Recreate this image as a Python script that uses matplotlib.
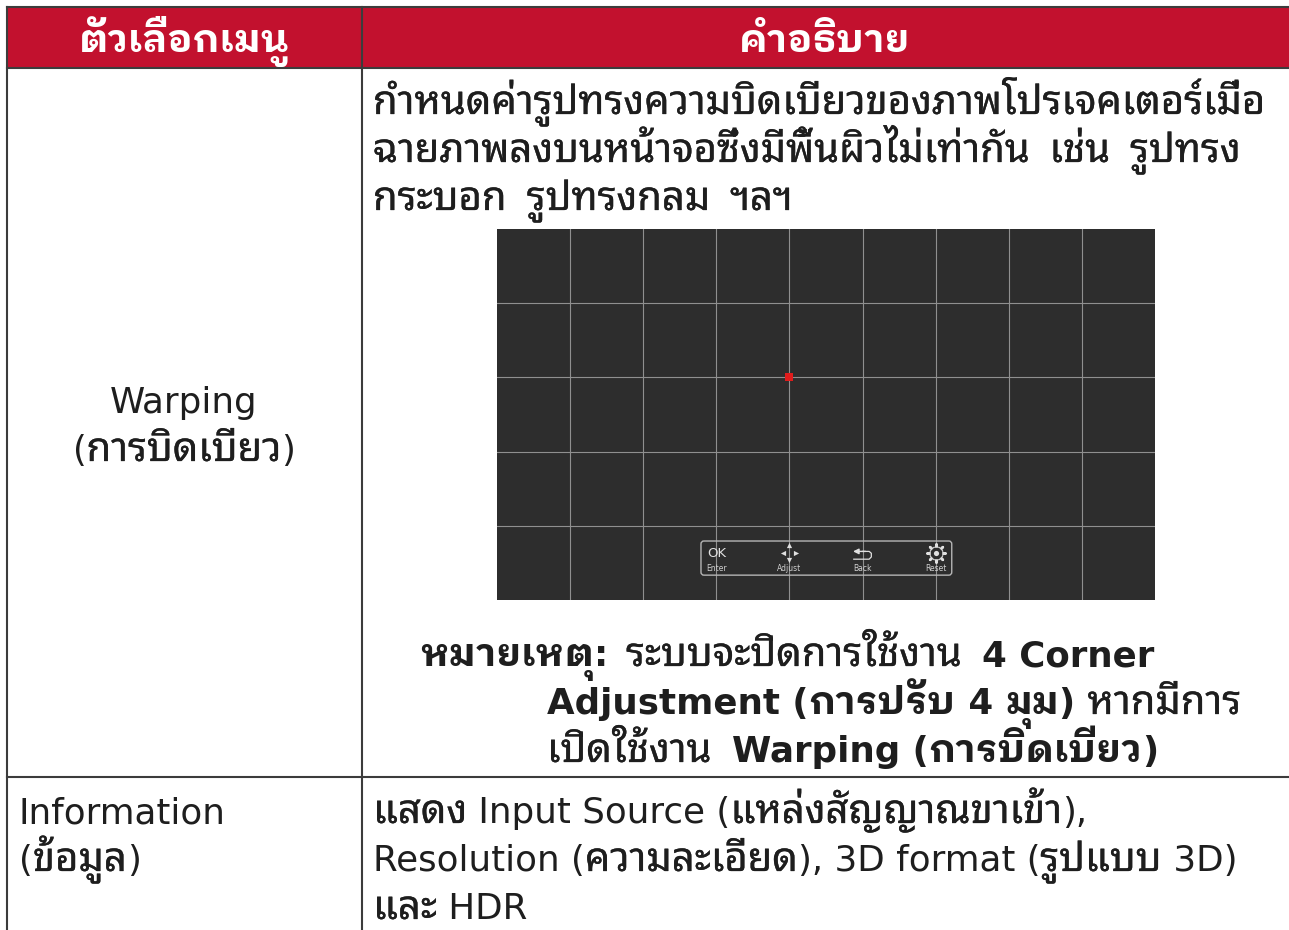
import re
import matplotlib
matplotlib.use('Agg')
import matplotlib.pyplot as plt
from matplotlib.patches import FancyBboxPatch
import matplotlib.patheffects as pe

header_labels = ['ตัวเลือกเมนู', 'คำอธิบาย']
warping_label = ['Warping', '(การบิดเบียว)']
warping_desc = ['กำหนดค่ารูปทรงความบิดเบียวของภาพโปรเจคเตอร์เมื่อ',
                'ฉายภาพลงบนหน้าจอซึ่งมีพื้นผิวไม่เท่ากัน เช่น รูปทรง',
                'กระบอก รูปทรงกลม ฯลฯ']
# note lines, each piece is (text, bold)
note_1 = [('หมายเหตุ:', True)]
note_2 = [('ระบบจะปิดการใช้งาน ', False), ('4 Corner', True)]
note_3 = [('Adjustment (การปรับ 4 มุม) ', True), ('หากมีการ', False)]
note_4 = [('เปิดใช้งาน ', False), ('Warping (การบิดเบียว)', True)]
info_label = ['Information', '(ข้อมูล)']
info_desc = ['แสดง Input Source (แหล่งสัญญาณขาเข้า),',
             'Resolution (ความละเอียด), 3D format (รูปแบบ 3D)',
             'และ HDR']
# the projector screen is a grid of cells
screen_cols = 9
screen_rows = 5
red_cell = (4, 2)
menu_labels = ['Enter', 'Adjust', 'Back', 'Reset']

RED = '#c2112e'
LINE = '#3c3c3c'
TEXT = '#1e1e1e'
ICON = '#e0e0e0'
# Noto Thai has no bold file here so bold Thai comes from IBM Plex
THAI_FONT = 'Noto Sans Thai Looped'
THAI_BOLD_FONT = 'IBM Plex Sans Thai Looped'
LATIN_FONT = 'DejaVu Sans'
THAI_SIZE = 28.8
THAI_BOLD_SIZE = 28
LATIN_SIZE = 25.7
THAI_SPACE = 20

fig = plt.figure(figsize=(12.89, 9.3), dpi=100)
ax = fig.add_axes([0, 0, 1, 1])
ax.set_xlim(0, 1289)
ax.set_ylim(930, 0)
ax.axis('off')

# table
ax.fill_between([7, 1289], 7, 68, color=RED, lw=0)
for y in [7, 68, 777]:
    ax.plot([7, 1289], [y, y], color=LINE, lw=1.5)
for x in [7, 361.5]:
    ax.plot([x, x], [7, 930], color=LINE, lw=1.5)


def put(x, y, s, bold=False, ha='left', color=TEXT):
    # Thai and latin pieces need their own font and size, y is the baseline
    r = fig.canvas.get_renderer()
    parts = []
    for piece in re.findall(r'[\u0E00-\u0E7F]+|[^\u0E00-\u0E7F]+', s):
        if piece.isspace():
            x += THAI_SPACE
            continue
        thai = '\u0E00' <= piece[0] <= '\u0E7F'
        if thai:
            family = THAI_BOLD_FONT if bold else THAI_FONT
            size = THAI_BOLD_SIZE if bold else THAI_SIZE
        else:
            family = LATIN_FONT
            size = LATIN_SIZE
        t = ax.text(x, y, piece, color=color, va='baseline', family=family, fontsize=size,
                    fontweight='bold' if bold else 'normal')
        if thai and not bold:
            t.set_path_effects([pe.withStroke(linewidth=0.2, foreground=color)])
        w = t.get_window_extent(r).width
        parts.append(t)
        x += w
    if ha == 'center':
        shift = (x - parts[0].get_position()[0]) / 2
        for t in parts:
            t.set_x(t.get_position()[0] - shift)
    return x


def put_runs(x, y, runs):
    for s, bold in runs:
        x = put(x, y, s, bold)


put(184, 52, header_labels[0], True, 'center', 'white')
put(825, 52, header_labels[1], True, 'center', 'white')

for y, s in zip([413, 461], warping_label):
    put(184, y, s, ha='center')
for y, s in zip([114, 162, 210], warping_desc):
    put(373, y, s)

put_runs(420, 666, note_1)
put_runs(626, 666, note_2)
put_runs(547, 714, note_3)
put_runs(547, 762, note_4)

for y, s in zip([823, 871], info_label):
    put(19, y, s)
for y, s in zip([823, 871, 919], info_desc):
    put(373, y, s)

# screen picture
sc = fig.add_axes([497 / 1289, 1 - 600 / 930, 658 / 1289, 371 / 930])
sc.set_facecolor('#2d2d2d')
sc.set_xlim(0, screen_cols)
sc.set_ylim(screen_rows, 0)
sc.set_xticks(range(1, screen_cols))
sc.set_yticks(range(1, screen_rows))
sc.grid(True, color='#8f8f8f', lw=0.8)
sc.tick_params(length=0, labelbottom=False, labelleft=False)
for sp in sc.spines.values():
    sp.set_visible(False)
sc.scatter([red_cell[0]], [red_cell[1]], marker='s', s=34, color='#e01b1b', lw=0, zorder=3)

# menu bar inside the screen, in cell units
bar = FancyBboxPatch((2.79, 4.205), 3.43, 0.46, boxstyle='round,pad=0,rounding_size=0.04',
                     fill=False, ec='#b5b5b5', lw=1, zorder=3)
sc.add_patch(bar)
for cx, s in zip([3.0, 4.0, 5.0, 6.0], menu_labels):
    sc.text(cx, 4.57, s, color='#d0d0d0', fontsize=5.5, ha='center', va='center',
            family='DejaVu Sans', zorder=4)
sc.text(3.0, 4.37, 'OK', color=ICON, fontsize=9.5, ha='center', va='center',
        family='DejaVu Sans', zorder=4)
# adjust icon
for dx, dy, m in [(0, -0.1, '^'), (0, 0.1, 'v'), (-0.09, 0, '<'), (0.09, 0, '>')]:
    sc.scatter([4 + dx], [4.36 + dy], marker=m, s=14, color=ICON, lw=0, zorder=4)
# back icon
sc.annotate('', xy=(4.87, 4.345), xytext=(5.04, 4.345), zorder=4,
            arrowprops=dict(arrowstyle='-|>', color=ICON, lw=1, mutation_scale=8, shrinkA=0, shrinkB=0))
sc.plot([5.0, 5.09, 5.12, 5.12, 5.09, 4.88], [4.345, 4.345, 4.37, 4.42, 4.45, 4.45],
        color=ICON, lw=0.9, zorder=4)
# gear icon
sc.scatter([6], [4.36], marker=(8, 2, 0), s=170, color=ICON, lw=1.8, zorder=4)
sc.scatter([6], [4.36], marker='8', s=95, facecolor='#2d2d2d', edgecolor=ICON, lw=0.7, zorder=5)
sc.scatter([6], [4.36], marker='o', s=14, color=ICON, lw=0, zorder=6)

fig.savefig('out.png', dpi=100)
